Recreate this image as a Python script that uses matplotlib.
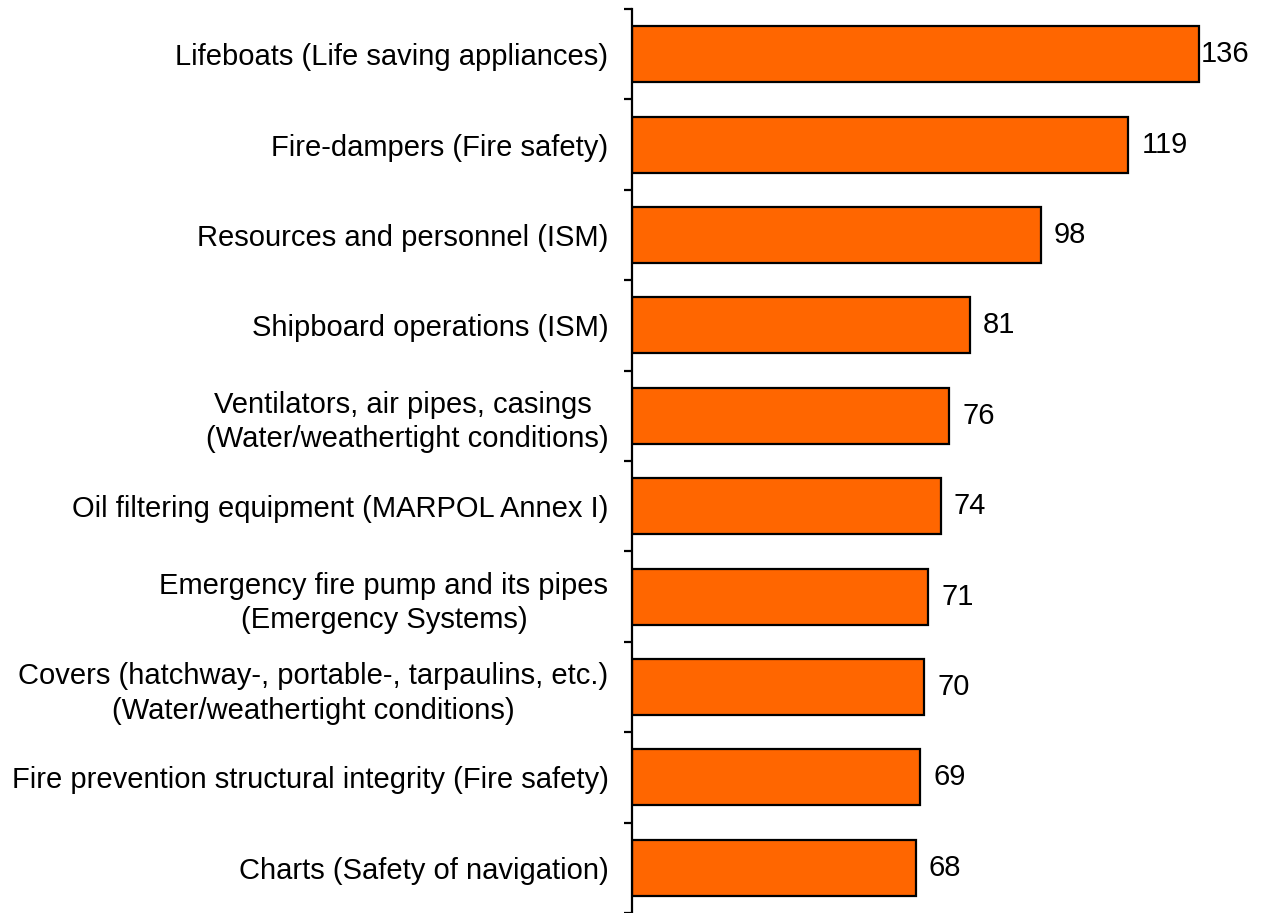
import matplotlib.pyplot as plt
import numpy as np

plt.rcParams['font.family'] = ['Liberation Sans', 'DejaVu Sans']

categories = [
    "Lifeboats (Life saving appliances)",
    "Fire-dampers (Fire safety)",
    "Resources and personnel (ISM)",
    "Shipboard operations (ISM)",
    "Ventilators, air pipes, casings \n(Water/weathertight conditions)",
    "Oil filtering equipment (MARPOL Annex I)",
    "Emergency fire pump and its pipes\n(Emergency Systems)",
    "Covers (hatchway-, portable-, tarpaulins, etc.)\n(Water/weathertight conditions)",
    "Fire prevention structural integrity (Fire safety)",
    "Charts (Safety of navigation)",
]
values = [136, 119, 98, 81, 76, 74, 71, 70, 69, 68]

fig = plt.figure(figsize=(12.61, 9.13), dpi=100)
# spine at x=632px, 4.17 px per unit
ax = fig.add_axes([632 / 1261, 0.0, (1261 - 632) / 1261, 1 - 9 / 913])

y = np.arange(len(values))
ax.barh(y, values, height=0.62, color='#FF6600', edgecolor='black', linewidth=1.6)

ax.set_ylim(len(values) - 0.5, -0.5)
ax.set_xlim(0, (1261 - 632) / 4.17)

ax.set_yticks(y)
ax.set_yticklabels(categories, fontsize=21, linespacing=1.3)
ax.set_yticks(np.arange(len(values) + 1) - 0.5, minor=True)
ax.tick_params(axis='y', which='major', length=0, pad=17)
ax.tick_params(axis='y', which='minor', length=6, width=1.6, direction='out')
for lbl in ax.get_yticklabels():
    lbl.set_multialignment('center')

for s in ['top', 'right', 'bottom']:
    ax.spines[s].set_visible(False)
ax.spines['left'].set_linewidth(1.6)
ax.set_xticks([])

xmax_label = 136.5
for yi, v in zip(y, values):
    gap = 0.3 if v + 3.2 > xmax_label else 3.2
    ax.text(v + gap, yi, str(v), va='center', ha='left', fontsize=21)

fig.savefig('out.png', dpi=100)
